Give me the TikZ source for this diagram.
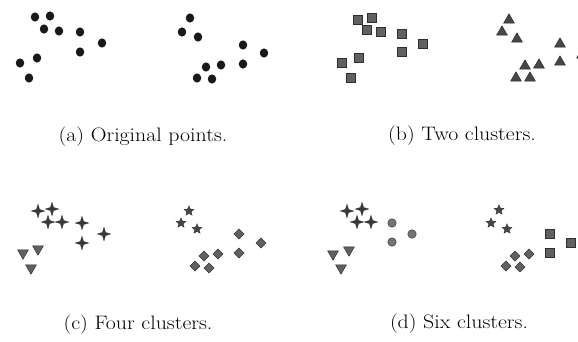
\documentclass[tikz,border=0pt]{standalone}
\usetikzlibrary{shapes.geometric}
\begin{document}
\begin{tikzpicture}[x=1pt,y=-1pt,
  mk/.style={inner sep=0pt,outer sep=0pt},
  dotm/.style={mk,ellipse,fill=black!90,minimum width=8.5pt,minimum height=9.2pt},
  sqm/.style={mk,rectangle,fill=black!62,draw=black!82,line width=0.6pt,minimum size=8.5pt},
  triu/.style={mk,regular polygon,regular polygon sides=3,fill=black!72,draw=black!85,line width=0.4pt,minimum size=12.5pt},
  trid/.style={triu,shape border rotate=180,fill=black!62},
  plusm/.style={mk,star,star points=4,star point ratio=3.1,fill=black!78,draw=black!85,line width=0.3pt,minimum size=13.5pt},
  starm/.style={mk,star,star points=5,star point ratio=2.2,fill=black!72,draw=black!85,line width=0.3pt,minimum size=10.5pt},
  diam/.style={mk,diamond,fill=black!62,draw=black!80,line width=0.5pt,minimum size=10pt},
  circm/.style={mk,circle,fill=black!55,draw=black!75,line width=0.5pt,minimum size=8.5pt},
  captxt/.style={inner sep=0pt,font=\fontsize{19.5}{23}\selectfont}]
\clip (0,0) rectangle (578,341);
\fill[white] (0,0) rectangle (578,341);
% (a) original points
\foreach \x/\y [count=\i] in {35/17,50/16,44/29,59/31,80/32,102/43,80/52,37/58,20/63,29/78,
  190/18,182/32,198/37,243/45,264/53,243/64,221/65,206/67,197/78,212/79}
  \node[dotm] (a\i) at (\x,\y) {};
% (b) two clusters
\foreach \x/\y [count=\i] in {358/20,372/18,367/30,381/32,402/34,423/44,402/52,359/58,342/63,351/78}
  \node[sqm] (bs\i) at (\x,\y) {};
\foreach \x/\y [count=\i] in {509/20,502/32,517/39,560/44,582/55,560/62,539/65,525/66,516/78,530/78}
  \node[triu] (bt\i) at (\x,\y) {};
% (c) four clusters
\foreach \x/\y [count=\i] in {38/211,52/209,48/222,62/222,82/223,104/234,82/243}
  \node[plusm] (cp\i) at (\x,\y) {};
\foreach \x/\y [count=\i] in {38/249,23/253,31/268}
  \node[trid] (ct\i) at (\x,\y) {};
\foreach \x/\y [count=\i] in {189/211,181/223,197/229}
  \node[starm] (cs\i) at (\x,\y) {};
\foreach \x/\y [count=\i] in {239/234,261/243,239/253,218/254,204/256,195/266,209/268}
  \node[diam] (cd\i) at (\x,\y) {};
% (d) six clusters
\foreach \x/\y [count=\i] in {347/211,362/209,357/222,371/222}
  \node[plusm] (dp\i) at (\x,\y) {};
\foreach \x/\y [count=\i] in {392/223,412/234,392/242}
  \node[circm] (dc\i) at (\x,\y) {};
\foreach \x/\y [count=\i] in {349/250,333/254,341/268}
  \node[trid] (dt\i) at (\x,\y) {};
\foreach \x/\y [count=\i] in {499/210,491/223,507/229}
  \node[starm] (ds\i) at (\x,\y) {};
\foreach \x/\y [count=\i] in {550/234,571/243,550/253}
  \node[sqm] (dq\i) at (\x,\y) {};
\foreach \x/\y [count=\i] in {529/254,515/256,506/266,520/267}
  \node[diam] (dd\i) at (\x,\y) {};
% captions
\node[captxt] (capa) at (143,137) {\scalebox{1.12}[1]{(a) Original points.}};
\node[captxt] (capb) at (462,136) {\scalebox{1.12}[1]{(b) Two clusters.}};
\node[captxt] (capc) at (138,325) {\scalebox{1.12}[1]{(c) Four clusters.}};
\node[captxt] (capd) at (459,324) {\scalebox{1.12}[1]{(d) Six clusters.}};
\end{tikzpicture}
\end{document}
